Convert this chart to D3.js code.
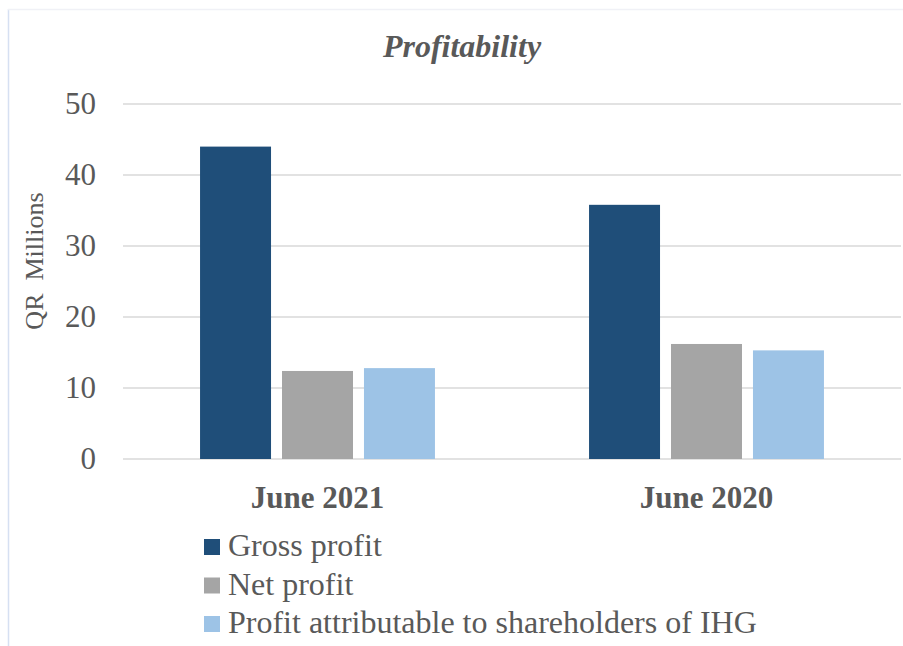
<!DOCTYPE html>
<html>
<head>
<meta charset="utf-8">
<script src="https://cdn.jsdelivr.net/npm/d3@7"></script>
<style>
  body { margin: 0; background: #fff; }
  text { font-family: "Liberation Serif", "Times New Roman", serif; fill: #595959; }
</style>
</head>
<body>
<div id="VizBox"></div>
<script>
// chart data
var categories = ["June 2021", "June 2020"];
var seriesNames = ["Gross profit", "Net profit", "Profit attributable to shareholders of IHG"];
var grossProfit = [44.0, 35.8];
var netProfit = [12.4, 16.2];
var shareholderProfit = [12.8, 15.3];
var yTicks = [0, 10, 20, 30, 40, 50];
var colors = ["#1f4e79", "#a5a5a5", "#9dc3e6"];

var seriesValues = [grossProfit, netProfit, shareholderProfit];

// size of the picture
var W = 903, H = 646;
var margin = {top: 104, right: 2, bottom: 187, left: 123};

var svg = d3.select("#VizBox")
  .append("svg")
    .attr("width", W)
    .attr("height", H);

// light frame of the chart area
svg.append("line")
  .attr("x1", 8.5).attr("x2", 8.5).attr("y1", 9).attr("y2", H)
  .attr("stroke", "#d6e0f2").attr("stroke-width", 1.5);
svg.append("line")
  .attr("x1", 8).attr("x2", W).attr("y1", 9.5).attr("y2", 9.5)
  .attr("stroke", "#f0f1f6").attr("stroke-width", 1.5);

// scales
var x0 = d3.scaleBand()
  .domain(categories)
  .range([margin.left, W - margin.right]);

var x1 = d3.scaleBand()
  .domain(d3.range(seriesNames.length))
  .range([0, x0.bandwidth()])
  .paddingInner(0.134)
  .paddingOuter(0.94);

var y = d3.scaleLinear()
  .domain([0, 50])
  .range([H - margin.bottom, margin.top]);

// gridlines
svg.append("g")
  .selectAll("line")
  .data(yTicks)
  .enter()
  .append("line")
    .attr("x1", margin.left)
    .attr("x2", W - margin.right)
    .attr("y1", function(d) { return y(d); })
    .attr("y2", function(d) { return y(d); })
    .attr("stroke", "#d9d9d9")
    .attr("stroke-width", 1.5);

// Y axis labels
var yAxis = svg.append("g")
  .attr("transform", "translate(" + (margin.left - 27) + ",0)")
  .call(d3.axisLeft(y).tickValues(yTicks).tickSize(0).tickPadding(0));
yAxis.select(".domain").remove();
yAxis.selectAll("text")
  .attr("font-size", 31)
  .style("font-family", "Liberation Serif")
  .attr("fill", "#595959");

// bars
var rows = [];
categories.forEach(function(c, i) {
  seriesValues.forEach(function(vals, s) {
    rows.push({cat: c, s: s, value: vals[i]});
  });
});

svg.append("g")
  .selectAll("rect")
  .data(rows)
  .enter()
  .append("rect")
    .attr("x", function(d) { return x0(d.cat) + x1(d.s); })
    .attr("y", function(d) { return y(d.value); })
    .attr("width", x1.bandwidth())
    .attr("height", function(d) { return y(0) - y(d.value); })
    .attr("fill", function(d) { return colors[d.s]; });

// X axis labels
var xAxis = svg.append("g")
  .attr("transform", "translate(0," + y(0) + ")")
  .call(d3.axisBottom(x0).tickSize(0).tickPadding(27));
xAxis.select(".domain").remove();
xAxis.selectAll("text")
  .attr("font-size", 31)
  .attr("font-weight", "bold")
  .style("font-family", "Liberation Serif")
  .attr("fill", "#595959");

// title
svg.append("text")
  .attr("x", 462)
  .attr("y", 57)
  .attr("text-anchor", "middle")
  .attr("font-size", 32)
  .attr("font-weight", "bold")
  .attr("font-style", "italic")
  .text("Profitability");

// y axis title
svg.append("text")
  .attr("transform", "translate(43," + 261 + ") rotate(-90)")
  .attr("text-anchor", "middle")
  .attr("font-size", 26)
  .style("white-space", "pre")
  .text("QR  Millions");

// legend
var legend = svg.append("g")
  .selectAll("g")
  .data(seriesNames)
  .enter()
  .append("g")
    .attr("transform", function(d, i) { return "translate(204," + (539 + i * 38.5) + ")"; });

legend.append("rect")
  .attr("width", 16)
  .attr("height", 16)
  .attr("fill", function(d, i) { return colors[i]; });

legend.append("text")
  .attr("x", 24)
  .attr("y", 17)
  .attr("font-size", 32)
  .text(function(d) { return d; });
</script>
</body>
</html>
